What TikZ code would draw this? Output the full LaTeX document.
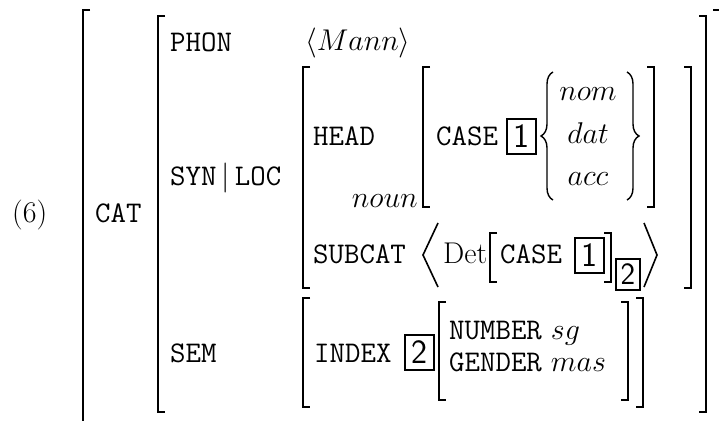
\documentclass[tikz,border=0pt]{standalone}
\usepackage{fix-cm}
\usepackage{amsmath}
\usetikzlibrary{decorations.pathreplacing}
\newcommand{\feat}[1]{\texttt{#1}}
% square brackets round a feature matrix: left x, right x, top y, bottom y
\newcommand{\avmbrackets}[4]{%
  \draw[brak] (#1+7,#3) -| (#1,#4) -- (#1+7,#4);
  \draw[brak] (#2-7,#3) -| (#2,#4) -- (#2-7,#4);}

\begin{document}
\begin{tikzpicture}[
    x=1pt, y=-1pt,
    font=\fontsize{30}{36}\selectfont,
    txt/.style = {inner sep=0pt, anchor=base west},
    tag/.style = {draw, line width=2pt, inner sep=0pt, minimum width=29pt,
                  minimum height=35pt, font=\fontsize{34}{40}\sffamily},
    smalltag/.style = {tag, minimum width=24pt, minimum height=31pt,
                  font=\fontsize{31}{37}\sffamily},
    brak/.style = {line width=1.6pt},
    brc/.style = {line width=1.4pt, decorate, decoration={brace, amplitude=12pt}},
    ]

  \useasboundingbox (0,0) rectangle (719,420);

  \node[txt] (exno) at (12,222) {(6)};
  \node[txt] (cat) at (95,222) {\feat{CAT}};

  % outermost matrix, cut at the bottom
  \draw[brak] (90,10) -| (83,430);
  \draw[brak] (713,10) -| (721,430);

  % value of CAT
  \avmbrackets{158}{706}{16}{412}
  \node[txt] (phon) at (170,52) {\feat{PHON}};
  \node[txt] (mann) at (305,50) {$\langle Mann\rangle$};
  \node[txt] (synloc) at (170,185) {\feat{SYN}\,$|$\,\feat{LOC}};
  \node[txt] (sem) at (170,362) {\feat{SEM}};

  % SYN|LOC
  \avmbrackets{303}{691}{67}{288}
  \node[txt] (head) at (313,145) {\feat{HEAD}};
  \node[inner sep=0pt, anchor=base east] (noun) at (418,207) {$noun$};

  \avmbrackets{423}{654}{67}{207}
  \node[txt] (case) at (436,145) {\feat{CASE}};
  \node[tag] (tag1) at (521,136) {1};
  \draw[brc] (553,200) -- (553,72);
  \node[inner sep=0pt, anchor=base] (nom) at (588,100) {$nom$};
  \node[inner sep=0pt, anchor=base] (dat) at (588,143) {$dat$};
  \node[inner sep=0pt, anchor=base] (acc) at (588,185) {$acc$};
  \draw[brc] (627,72) -- (627,200);

  \node[txt] (subcat) at (313,263) {\feat{SUBCAT}};
  \draw[brak] (438,223) -- (423,255) -- (438,287);
  \node[txt] (det) at (443,263) {Det};
  \draw[brak] (497,233) -| (490,282) -- (497,282);
  \node[txt] (case2) at (500,263) {\feat{CASE}};
  \node[tag] (tag1b) at (589,255.5) {1};
  \draw[brak] (604,233) -| (611,282) -- (604,282);
  \node[smalltag] (tag2s) at (628,274) {2};
  \draw[brak] (644,223) -- (657,255) -- (644,287);

  % SEM
  \avmbrackets{303}{643}{298}{407}
  \node[txt] (index) at (314,362) {\feat{INDEX}};
  \node[tag] (tag2) at (419,352) {2};
  \avmbrackets{439}{628}{302}{400}
  \node[txt] (number) at (449,339) {\feat{NUMBER} $sg$};
  \node[txt] (gender) at (449,371) {\feat{GENDER} $mas$};

\end{tikzpicture}
\end{document}
